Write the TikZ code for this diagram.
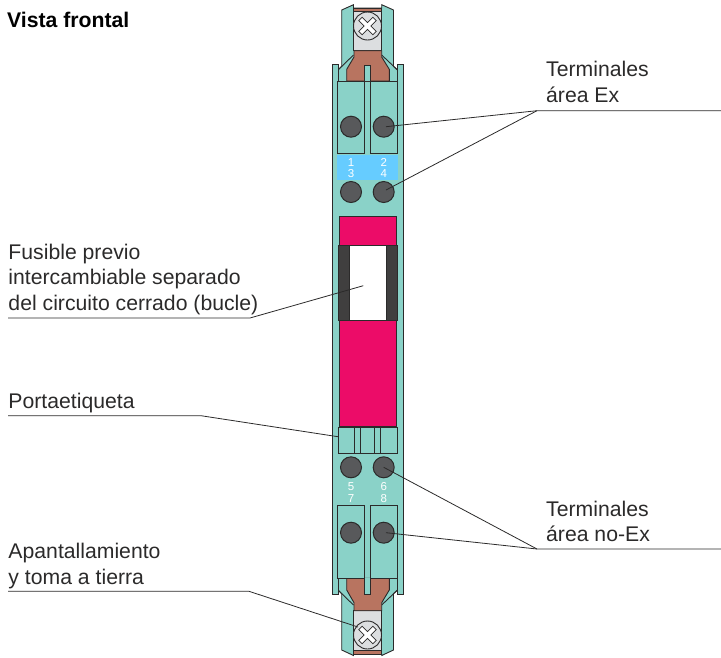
\documentclass[tikz,border=0pt]{standalone}
\usepackage{fontspec}
\setmainfont{Liberation Sans}
\definecolor{rail}{HTML}{8AD2C8}
\definecolor{plug}{HTML}{EC0C68}
\definecolor{sky}{HTML}{66CCFF}
\definecolor{copper}{HTML}{B87460}
\definecolor{metal}{HTML}{DCDEE0}
\definecolor{knob}{HTML}{58595B}
\definecolor{ink}{HTML}{2B2A2A}
\tikzset{
	part/.style={draw=ink, line width=0.9pt, fill=#1},
	edge line/.style={draw=ink, line width=0.9pt},
	leader/.style={draw=ink, line width=0.8pt},
	caption/.style={anchor=base west, inner sep=0pt, align=left, text=ink, font=\fontsize{21.2}{25.4}\selectfont},
	pin/.style={circle, draw=ink, line width=1pt, fill=knob, minimum size=21pt, inner sep=0pt},
	num/.style={text=white, inner sep=0pt, font=\fontsize{11.5}{11.5}\selectfont}
}
\def\screwhead(#1,#2){
	\draw[part=metal] (#1,#2) circle (14);
	\begin{scope}[shift={(#1,#2)}, rotate=45]
		\draw[draw=ink, line width=0.8pt, fill=white] (-10,-2.4) -- (-2.4,-2.4) -- (-2.4,-10) -- (2.4,-10) -- (2.4,-2.4) -- (10,-2.4) -- (10,2.4) -- (2.4,2.4) -- (2.4,10) -- (-2.4,10) -- (-2.4,2.4) -- (-10,2.4) -- cycle;
	\end{scope}
}

\begin{document}
\begin{tikzpicture}[x=1pt, y=-1pt]
	\useasboundingbox (0,0) rectangle (721,657);
	
	% upper clamp
	\draw[part=rail] (341.7,10) -- (353.5,4.7) -- (353.5,8) -- (381.7,8) -- (381.7,4.7) -- (393.5,10) -- (393.5,66.4) -- (397.5,70) -- (397.5,85) -- (338,85) -- (338,70) -- (341.7,66.4) -- cycle;
	\draw[edge line] (353.5,55) -- (338,70);
	\draw[edge line] (381.7,55) -- (397.5,70);
	\draw[part=metal] (353.5,8) rectangle (381.7,50.7);
	\draw[part=copper] (353.5,8) rectangle (381.7,11.5);
	\screwhead(367.5,26)
	
	% lower clamp
	\draw[part=rail] (338,575) -- (397.5,575) -- (397.5,590) -- (393.5,593.6) -- (393.5,650) -- (381.7,655.5) -- (381.7,654.5) -- (353.5,654.5) -- (353.5,655.5) -- (341.7,650) -- (341.7,593.6) -- (338,590) -- cycle;
	\draw[edge line] (353.5,605) -- (338,590);
	\draw[edge line] (381.7,605) -- (397.5,590);
	\draw[part=metal] (353.5,610.7) rectangle (381.7,650);
	\draw[part=copper] (353.5,650) rectangle (381.7,654.5);
	\screwhead(367.5,635)
	
	% housing
	\draw[part=rail] (332.8,64) -- (338,64) -- (338,81) -- (397.5,81) -- (397.5,64) -- (403,64) -- (403,594) -- (397.5,594) -- (397.5,578) -- (338,578) -- (338,594) -- (332.8,594) -- cycle;
	
	% copper straps
	\draw[part=copper] (354,50.7) -- (381.7,50.7) -- (381.7,57) -- (389.3,69.3) -- (389.3,81) -- (346.7,81) -- (346.7,69.3) -- (354,57) -- cycle;
	\draw[part=copper] (346.7,578.3) -- (389.3,578.3) -- (389.3,590) -- (381.7,602.7) -- (381.7,610.7) -- (354,610.7) -- (354,602.7) -- (346.7,590) -- cycle;
	
	% terminal plates
	\draw[part=rail] (337.7,81) rectangle (364.3,153.7);
	\draw[part=rail] (370.7,81) rectangle (397.3,153.7);
	\draw[part=rail] (364.3,81) -- (364.3,65) -- (370.7,65) -- (370.7,81);
	\draw[part=rail] (337.7,505.7) rectangle (364.3,578.3);
	\draw[part=rail] (370.7,505.7) rectangle (397.3,578.3);
	\draw[part=rail] (364.3,578.3) -- (364.3,594) -- (370.7,594) -- (370.7,578.3);
	
	% numbered strip
	\fill[sky] (337,155) rectangle (397.7,180);
	\node[num] (one) at (351,162.3) {1};
	\node[num] (two) at (383.7,162.3) {2};
	\node[num] (three) at (351,174) {3};
	\node[num] (four) at (383.7,174) {4};
	\node[num] (five) at (351,486.3) {5};
	\node[num] (six) at (383.7,486.3) {6};
	\node[num] (seven) at (351,499) {7};
	\node[num] (eight) at (383.7,499) {8};
	
	% pins
	\node[pin] (pinA) at (351,126.7) {};
	\node[pin] (pinB) at (383.7,126.7) {};
	\node[pin] (pinC) at (351,192) {};
	\node[pin] (pinD) at (383.7,192) {};
	\node[pin] (pinE) at (351,467.3) {};
	\node[pin] (pinF) at (383.7,467.3) {};
	\node[pin] (pinG) at (351,532.7) {};
	\node[pin] (pinH) at (383.7,532.7) {};
	
	% fuse plug
	\draw[part=plug] (339.3,216) rectangle (396.7,245.7);
	\draw[part=white] (349.3,245.7) rectangle (386.7,320.7);
	\draw[part=ink!90] (338,245.7) rectangle (349.3,320.7);
	\draw[part=ink!90] (386.7,245.7) rectangle (397.3,320.7);
	\draw[part=plug] (339.3,320.7) rectangle (396.7,426);
	
	% label holder
	\draw[part=rail] (338,427) rectangle (397.3,453.3);
	\draw[edge line] (354,427) -- (354,453.3);
	\draw[edge line] (360,427) -- (360,453.3);
	\draw[edge line] (374.3,427) -- (374.3,453.3);
	\draw[edge line] (380.7,427) -- (380.7,453.3);
	
	% captions
	\node[anchor=base west, inner sep=0pt, font=\fontsize{21.2}{25}\selectfont\bfseries] (title) at (7,27) {Vista frontal};
	\node[caption] (exText) at (546,102.3) {Terminales\\área Ex};
	\node[caption] (fuseText) at (8.3,310) {Fusible previo\\intercambiable separado\\del circuito cerrado (bucle)};
	\node[caption] (tagText) at (8.3,408.3) {Portaetiqueta};
	\node[caption] (noExText) at (546,541.7) {Terminales\\área no-Ex};
	\node[caption] (shieldText) at (8.3,584) {Apantallamiento\\y toma a tierra};
	
	% leaders
	\coordinate (exEnd) at (721,110.7);
	\coordinate (exKnee) at (537,110.7);
	\coordinate (exTipA) at (386,126.7);
	\coordinate (exTipB) at (386,190);
	\coordinate (fuseStart) at (8,318);
	\coordinate (fuseKnee) at (250,318);
	\coordinate (fuseTip) at (363.3,285.7);
	\coordinate (tagStart) at (8,415.7);
	\coordinate (tagKnee) at (201,415.7);
	\coordinate (tagTip) at (338,436.7);
	\coordinate (noExEnd) at (721,549);
	\coordinate (noExKnee) at (537,549);
	\coordinate (noExTipB) at (386,532.7);
	\coordinate (shieldStart) at (8,591.3);
	\coordinate (shieldKnee) at (249,591.3);
	\coordinate (shieldTip) at (358,627);
	\draw[leader] (exEnd) -- (exKnee) -- (exTipA);
	\draw[leader] (exKnee) -- (exTipB);
	\draw[leader] (fuseStart) -- (fuseKnee) -- (fuseTip);
	\draw[leader] (tagStart) -- (tagKnee) -- (tagTip);
	\draw[leader] (noExEnd) -- (noExKnee) -- (pinF.center);
	\draw[leader] (noExKnee) -- (noExTipB);
	\draw[leader] (shieldStart) -- (shieldKnee) -- (shieldTip);
\end{tikzpicture}
\end{document}
